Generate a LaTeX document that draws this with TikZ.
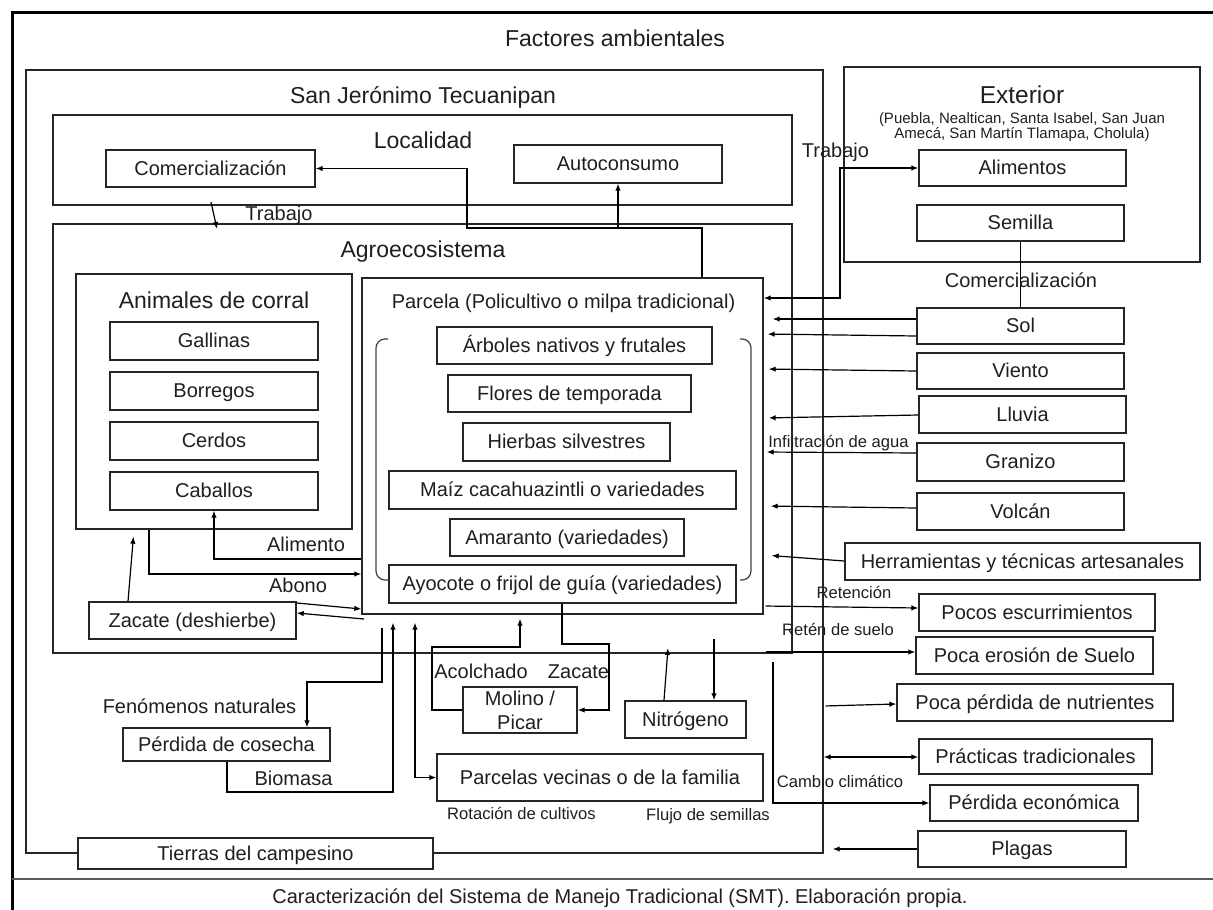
\documentclass[tikz,border=0pt]{standalone}
\usepackage{fontspec}
\setmainfont{Liberation Sans}
\usetikzlibrary{arrows.meta}
\newcommand\bx[7][box]{\node[#1, minimum width={#5-#3}, minimum height={#6-#4}] (#2) at ({(#3+#5)/2},{(#4+#6)/2}) {#7};}
\begin{document}
\begin{tikzpicture}[x=1pt,y=-1pt,
  cont/.style={draw=black!85, line width=1.4pt, inner sep=0pt, fill=none},
  bbase/.style={draw=black!85, line width=1.4pt, fill=white, inner sep=0pt, text=black!88, font=\fontsize{20}{24}\selectfont},
  box/.style={bbase, text height=18.1pt, text depth=4.2pt},
  ttl/.style={inner sep=0pt, text=black!88, font=\fontsize{23}{27}\selectfont, text height=16.6pt, text depth=4.8pt},
  bigttl/.style={inner sep=0pt, text=black!88, font=\fontsize{24.5}{28}\selectfont, text height=17.6pt, text depth=5.1pt},
  lbl/.style={inner sep=0pt, text=black!88, font=\fontsize{20}{24}\selectfont, text height=14.4pt, text depth=4.2pt},
  sml/.style={inner sep=0pt, text=black!88, font=\fontsize{16.6}{20}\selectfont, text height=12pt, text depth=3.5pt},
  sub/.style={inner sep=0pt, text=black!88, font=\fontsize{15}{18}\selectfont, text height=10.8pt, text depth=3.2pt},
  ln/.style={draw=black, line width=1.2pt},
  arr/.style={ln, -{Latex[length=7pt,width=5.5pt]}},
  arr2/.style={ln, {Latex[length=7pt,width=5.5pt]}-{Latex[length=7pt,width=5.5pt]}},
  brk/.style={draw=black!75, line width=1.2pt, rounded corners=9pt}
]
\useasboundingbox (0,0) rectangle (1213,910);
% frame
\draw[line width=3pt, black] (12,910) -- (12,12) -- (1213,12);
\draw[line width=2pt, black!65] (12,879) -- (1213,879);
\node[lbl] (cap) at (620,898) {Caracterización del Sistema de Manejo Tradicional (SMT). Elaboración propia.};
\node[ttl] (tfa) at (615,41) {Factores ambientales};

% containers
\bx[cont]{sanj}{26}{70}{823}{853}{}
\bx[cont]{loc}{53}{115}{792}{205}{}
\bx[cont]{agro}{53}{224}{792}{653}{}
\bx[cont]{anim}{76}{274}{352}{529}{}
\bx[cont]{parc}{362}{278}{763}{614}{}
\bx[cont]{ext}{844}{67}{1200}{262}{}

\node[ttl] (tsj) at (423,98) {San Jerónimo Tecuanipan};
\node[ttl] (tloc) at (423,142.5) {Localidad};
\node[ttl] (tagro) at (423,252) {Agroecosistema};
\node[ttl] (tanim) at (214,302.5) {Animales de corral};
\node[lbl] (tparc) at (563.5,303) {Parcela (Policultivo o milpa tradicional)};
\node[bigttl] (text) at (1022,97.5) {Exterior};
\node[sub] (text1) at (1022,119.5) {(Puebla, Nealtican, Santa Isabel, San Juan};
\node[sub] (text2) at (1022,135) {Amecá, San Martín Tlamapa, Cholula)};

% brackets
\draw[brk] (388,339) -- (376,339) -- (376,580) -- (388,580);
\draw[brk] (740,339) -- (751,339) -- (751,580) -- (740,580);

% boxes
\bx{com}{106}{150}{315}{187}{Comercialización}
\bx{auto}{514}{145}{722}{183}{Autoconsumo}
\bx{gall}{110}{322}{318}{360}{Gallinas}
\bx{borr}{110}{372}{318}{410}{Borregos}
\bx{cerd}{110}{422}{318}{460}{Cerdos}
\bx{caba}{110}{472}{318}{510}{Caballos}
\bx{arb}{437}{327}{712}{364}{Árboles nativos y frutales}
\bx{flor}{448}{375}{691}{412}{Flores de temporada}
\bx{hier}{463}{423}{670}{461}{Hierbas silvestres}
\bx{maiz}{389}{471}{736}{509}{Maíz cacahuazintli o variedades}
\bx{amar}{450}{519}{684}{556}{Amaranto (variedades)}
\bx{ayoc}{389}{565}{736}{603}{Ayocote o frijol de guía (variedades)}
\bx{zac}{89}{602}{296}{639}{Zacate (deshierbe)}
\bx{perd}{123}{728}{330}{761}{Pérdida de cosecha}
\node[bbase, align=center, minimum width=114pt, minimum height=46pt] (molino) at (520,710) {\fontsize{20}{25}\selectfont Molino /\\Picar};
\bx{nitro}{625}{701}{746}{738}{Nitrógeno}
\bx{parv}{437}{754}{763}{801}{Parcelas vecinas o de la familia}
\bx{tierras}{78}{838}{433}{869}{Tierras del campesino}
\bx{alim}{919}{150}{1126}{186}{Alimentos}
\bx{sem}{917}{205}{1124}{241}{Semilla}
\bx{sol}{917}{308}{1124}{344}{Sol}
\bx{vien}{917}{353}{1124}{389}{Viento}
\bx{lluv}{919}{396}{1126}{433}{Lluvia}
\bx{gran}{917}{443}{1124}{481}{Granizo}
\bx{volc}{917}{493}{1124}{530}{Volcán}
\bx{herr}{845}{543}{1200}{580}{Herramientas y técnicas artesanales}
\bx{pocos}{919}{594}{1155}{631}{Pocos escurrimientos}
\bx{poca}{916}{637}{1153}{674}{Poca erosión de Suelo}
\bx{nutr}{897}{684}{1173}{721}{Poca pérdida de nutrientes}
\bx{prac}{919}{739}{1152}{774}{Prácticas tradicionales}
\bx{peco}{930}{785}{1138}{821}{Pérdida económica}
\bx{plag}{918}{831}{1126}{867}{Plagas}

% connectors top
\coordinate (j1) at (618,228);
\draw[arr] (parc.north -| 702,0) -- (702,228) -- (467,228) |- (com.east);
\draw[arr] (j1) -- (auto.south);
\coordinate (t1) at (211,202);
\coordinate (t2) at (217,229);
\draw[arr] (t1) -- (t2);
\node[lbl] (ltrab1) at (279,215) {Trabajo};
\draw[arr2] (parc.east |- 0,298) -- (840,298) |- (alim.west);
\node[lbl] (ltrab2) at (835.5,152) {Trabajo};
\draw[ln] (sem.south) -- (sol.north);
\node[lbl] (lcom2) at (1021,282) {Comercialización};

% right inputs
\draw[arr, shorten >=9pt] (sol.west |- 0,319) -- (parc.east |- 0,319);
\draw[arr, shorten >=4pt] (sol.west |- 0,336) -- (parc.east |- 0,334);
\draw[arr, shorten >=5pt] (vien.west |- 0,371) -- (parc.east |- 0,369);
\draw[arr, shorten >=5pt] (lluv.west |- 0,415) -- (parc.east |- 0,418);
\draw[arr, shorten >=3pt] (gran.west |- 0,453) -- (parc.east |- 0,452);
\node[sml] (linf) at (838.5,443.5) {Infiltración de agua};
\draw[arr, shorten >=7pt] (volc.west |- 0,508) -- (parc.east |- 0,506);
\draw[arr, shorten >=8pt] (herr.west |- 0,561) -- (parc.east |- 0,555);

% right outputs
\draw[arr, shorten <=2pt] (parc.east |- 0,606) -- (pocos.west |- 0,608);
\node[sml] (lret) at (854,594) {Retención};
\draw[arr, shorten <=2pt] (parc.east |- 0,652) -- (poca.west |- 0,652);
\node[sml] (lrets) at (838,631.5) {Retén de suelo};
\draw[arr, shorten <=2pt] (sanj.east |- 0,706) -- (nutr.west |- 0,704);
\draw[arr2] (sanj.east |- 0,757) -- (prac.west |- 0,757);
\coordinate (cc) at (773,662);
\draw[arr] (cc) |- (peco.west);
\node[sml] (lcamb) at (840,783.5) {Cambio climático};
\draw[arr, shorten >=9pt] (plag.west) -- (sanj.east |- plag.west);

% left
\draw[arr] (parc.west |- 0,559) -| (caba.south);
\node[lbl] (lalim) at (306,546.5) {Alimento};
\draw[arr] (anim.south -| 149,0) |- (parc.west |- 0,574);
\node[lbl] (labo) at (298,587) {Abono};
\draw[arr, shorten >=7pt] (zac.north -| 128,0) -- (anim.south -| 134,0);
\draw[arr] (zac.east |- 0,603) -- (parc.west |- 0,609);
\coordinate (zb) at (364,619);
\draw[arr] (zb) -- (zac.east |- 0,613);
\coordinate (fn) at (382,628);
\draw[arr] (fn) |- (307,682) -- (perd.north -| 307,0);
\node[lbl] (lfen) at (199.5,708.5) {Fenómenos naturales};
\draw[arr, shorten >=8pt] (perd.south -| 227,0) |- (393,792) -- (parc.south -| 393,0);
\node[lbl] (lbio) at (293.5,780) {Biomasa};
\draw[arr2, shorten <=8pt] (parc.south -| 415,0) |- (parv.west);
\node[sml] (lrot) at (521.5,815.5) {Rotación de cultivos};
\node[sml] (lflu) at (708,816.5) {Flujo de semillas};

% molino loop
\draw[arr, shorten >=4pt] (molino.west) -| (432,647) -- (520,647) -- (parc.south -| 520,0);
\node[lbl] (lacol) at (481,673) {Acolchado};
\draw[arr] (ayoc.south -| 562,0) |- (609,644) |- (molino.east);
\node[lbl] (lzac) at (578.5,673) {Zacate};

% nitrogeno
\coordinate (n1) at (668,648);
\draw[arr] (nitro.north -| 664,0) -- (n1);
\coordinate (n2) at (714,639);
\draw[arr] (n2) -- (nitro.north -| 714,0);
\end{tikzpicture}
\end{document}
